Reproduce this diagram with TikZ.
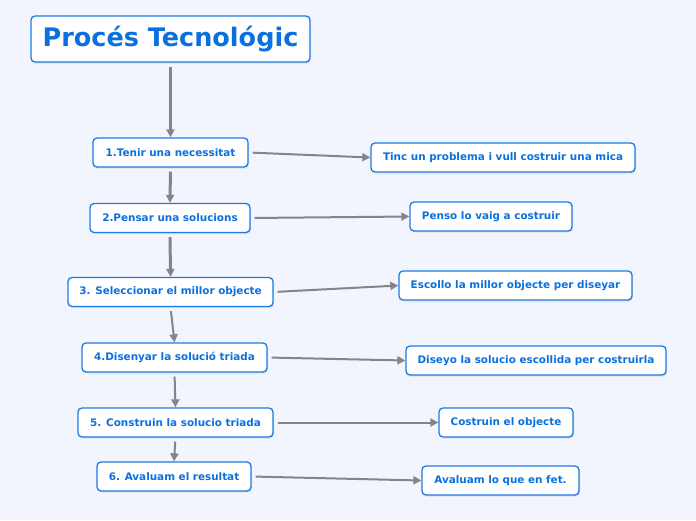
\documentclass[tikz,border=0pt]{standalone}
\usepackage{fontspec}
\setmainfont{DejaVu Sans}
\usetikzlibrary{arrows.meta,shadows}
\definecolor{mapbg}{RGB}{242,245,253}
\definecolor{mapblue}{RGB}{10,112,224}
\definecolor{mapframe}{RGB}{28,122,228}
\definecolor{maplink}{RGB}{132,132,140}

\begin{document}
\begin{tikzpicture}[
  x=1pt,y=-1pt,
  font=\bfseries\fontsize{10.4}{12}\selectfont,
  box/.style={draw=mapframe,line width=1.3pt,rounded corners=4pt,fill=white,
              text=mapblue,align=center,inner sep=0pt,minimum height=29pt,
              drop shadow={opacity=0.18,shadow xshift=1pt,shadow yshift=-1.5pt}},
  topic/.style={box,font=\bfseries\fontsize{25.5}{28}\selectfont,minimum height=46pt},
  arr/.style={-{Triangle[length=8pt,width=8pt]},maplink,line width=2pt,shorten <=4pt},
  thick arr/.style={arr,line width=3pt}
]
\fill[mapbg] (0,0) rectangle (696,520);
\useasboundingbox (0,0) rectangle (696,520);

\node[topic,minimum width=279pt] (tema) at (170.5,39) {Procés Tecnológic};

% passos del proces
\node[box,minimum width=155pt] (pas1) at (170.5,152.5) {1.Tenir una necessitat};
\node[box,minimum width=160pt] (pas2) at (170,218) {2.Pensar una solucions};
\node[box,minimum width=205pt] (pas3) at (170.5,292) {3. Seleccionar el millor objecte};
\node[box,minimum width=185pt] (pas4) at (174.5,357.5) {4.Disenyar la solució triada};
\node[box,minimum width=195pt] (pas5) at (175.5,422.5) {5. Construin la solucio triada};
\node[box,minimum width=154pt] (pas6) at (174,476.5) {6. Avaluam el resultat};

% explicacions
\node[box,minimum width=264pt] (exp1) at (503,157.5) {Tinc un problema i vull costruir una mica};
\node[box,minimum width=162pt] (exp2) at (491,216.5) {Penso lo vaig a costruir};
\node[box,minimum width=233pt] (exp3) at (515.5,285.5) {Escollo la millor objecte per diseyar};
\node[box,minimum width=260pt] (exp4) at (536,360.5) {Diseyo la solucio escollida per costruirla};
\node[box,minimum width=134pt] (exp5) at (506,422.5) {Costruin el objecte};
\node[box,minimum width=157pt] (exp6) at (500.5,480.5) {Avaluam lo que en fet.};

\draw[thick arr] (tema.south) -- (pas1.north);
\draw[thick arr] (pas1.south) -- (pas2.north);
\draw[thick arr] (pas2.south) -- (pas3.north);
\draw[arr] (pas3.south) -- (pas4.north);
\draw[arr] (pas4.south) -- (pas5.north);
\draw[arr] (pas5.south) -- (pas6.north);

\foreach \i in {1,...,6}
  \draw[arr] (pas\i.east) -- (exp\i.west);
\end{tikzpicture}
\end{document}
